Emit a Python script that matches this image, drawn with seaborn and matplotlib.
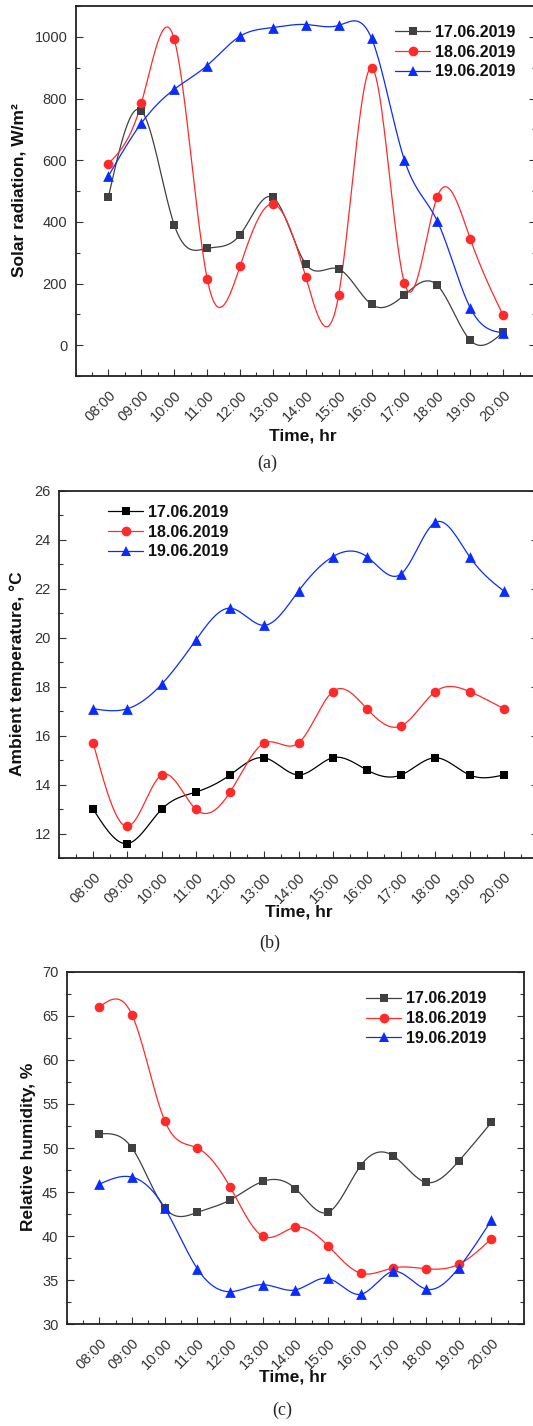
import numpy as np
import pandas as pd
import matplotlib
matplotlib.use("Agg")
import matplotlib.pyplot as plt
import seaborn as sns
from matplotlib.lines import Line2D
from matplotlib.ticker import MultipleLocator

# ---------------- data ----------------
times = ["08:00", "09:00", "10:00", "11:00", "12:00", "13:00", "14:00",
         "15:00", "16:00", "17:00", "18:00", "19:00", "20:00"]
days = ["17.06.2019", "18.06.2019", "19.06.2019"]

solar_17 = [482, 760, 390, 314, 358, 479, 263, 247, 132, 163, 194, 16, 42]
solar_18 = [589, 785, 992, 216, 256, 458, 221, 163, 900, 201, 482, 345, 97]
solar_19 = [549, 720, 830, 907, 1002, 1030, 1040, 1037, 995, 600, 402, 121, 40]

temp_17 = [13.0, 11.6, 13.0, 13.7, 14.4, 15.1, 14.4, 15.1, 14.6, 14.4, 15.1, 14.4, 14.4]
temp_18 = [15.7, 12.3, 14.4, 13.0, 13.7, 15.7, 15.7, 17.8, 17.1, 16.4, 17.8, 17.8, 17.1]
temp_19 = [17.1, 17.1, 18.1, 19.9, 21.2, 20.5, 21.9, 23.3, 23.3, 22.6, 24.7, 23.3, 21.9]

hum_17 = [51.6, 50.0, 43.2, 42.7, 44.1, 46.2, 45.4, 42.7, 48.0, 49.1, 46.1, 48.5, 52.9]
hum_18 = [66.0, 65.1, 53.1, 50.0, 45.6, 40.0, 41.0, 38.9, 35.8, 36.4, 36.3, 36.8, 39.7]
hum_19 = [45.9, 46.7, 43.2, 36.3, 33.7, 34.5, 33.9, 35.2, 33.4, 36.0, 34.0, 36.4, 41.8]


def natural_spline(x, y, n=600):
    x = np.asarray(x, float)
    y = np.asarray(y, float)
    k = len(x)
    h = np.diff(x)
    A = np.zeros((k, k))
    r = np.zeros(k)
    A[0, 0] = 1
    A[-1, -1] = 1
    for i in range(1, k - 1):
        A[i, i - 1] = h[i - 1]
        A[i, i] = 2 * (h[i - 1] + h[i])
        A[i, i + 1] = h[i]
        r[i] = 6 * ((y[i + 1] - y[i]) / h[i] - (y[i] - y[i - 1]) / h[i - 1])
    M = np.linalg.solve(A, r)
    xs = np.linspace(x[0], x[-1], n)
    idx = np.clip(np.searchsorted(x, xs) - 1, 0, k - 2)
    x0, x1 = x[idx], x[idx + 1]
    hh = x1 - x0
    a = (x1 - xs) / hh
    b = (xs - x0) / hh
    ys = (a * y[idx] + b * y[idx + 1]
          + ((a ** 3 - a) * M[idx] + (b ** 3 - b) * M[idx + 1]) * hh ** 2 / 6)
    return xs, ys


# ---------------- style ----------------
sns.set_theme(style="ticks")
plt.rcParams["font.family"] = ["Liberation Sans", "DejaVu Sans"]

W, H = 533, 1426
fig = plt.figure(figsize=(W / 100, H / 100), dpi=100)


def rect(l, r, t, b):
    return [l / W, 1 - b / H, (r - l) / W, (b - t) / H]


RED = "#ff2a2a"
BLUE = "#0a2cff"
markers = ["s", "o", "^"]
msizes_sc = [40, 48, 60]
msizes_leg = [6.2, 7.0, 7.8]

panels = [
    dict(series=[solar_17, solar_18, solar_19], colors=["#404040", RED, BLUE],
         rect=rect(75.6, 536, 6, 376), ylim=(-100, 1100), major=200, minor=100,
         ylabel="Solar radiation, W/m²", ylab_xy=(-0.106, 0.503), xlab_xy=(0.494, -0.141),
         leg_xy=(0.694, 0.949), caption="(a)", cap_xy=(267, 463)),
    dict(series=[temp_17, temp_18, temp_19], colors=["#000000", RED, BLUE],
         rect=rect(59.0, 538, 490.5, 858.3), ylim=(11, 26), major=2, minor=1,
         ylabel="Ambient temperature, °C", ylab_xy=(-0.070, 0.502), xlab_xy=(0.5, -0.125),
         leg_xy=(0.103, 0.961), caption="(b)", cap_xy=(270, 943)),
    dict(series=[hum_17, hum_18, hum_19], colors=["#404040", RED, BLUE],
         rect=rect(66.7, 524, 971.7, 1324.3), ylim=(30, 70), major=5, minor=2.5,
         ylabel="Relative humidity, %", ylab_xy=(-0.068, 0.504), xlab_xy=(0.495, -0.128),
         leg_xy=(0.655, 0.944), caption="(c)", cap_xy=(282, 1410)),
]

xi = np.arange(len(times))
TICKCOL = "#333333"

for p in panels:
    ax = fig.add_axes(p["rect"])
    handles = []
    for vals, col, mk, s_sc, s_leg, lab in zip(p["series"], p["colors"], markers,
                                               msizes_sc, msizes_leg, days):
        xs, ys = natural_spline(xi, vals)
        sns.lineplot(x=xs, y=ys, color=col, lw=0.9, ax=ax, sort=False,
                     estimator=None, legend=False, zorder=2)
        sns.scatterplot(x=xi, y=vals, marker=mk, s=s_sc, color=col,
                        edgecolor=col, linewidth=0, ax=ax, legend=False, zorder=3)
        handles.append(Line2D([], [], color=col, lw=0.9, marker=mk,
                              markersize=s_leg, markeredgewidth=0, label=lab))

    ax.set_xlim(-1, 13)
    ax.set_xticks(xi)
    ax.set_xticklabels(times, rotation=45, ha="right", rotation_mode="anchor")
    ax.xaxis.set_minor_locator(MultipleLocator(0.5))
    ax.yaxis.set_major_locator(MultipleLocator(p["major"]))
    ax.yaxis.set_minor_locator(MultipleLocator(p["minor"]))
    ax.set_ylim(*p["ylim"])

    ax.tick_params(which="both", direction="in", right=True, top=False,
                   colors=TICKCOL, width=0.8)
    ax.tick_params(axis="y", labelsize=10.5, pad=6)
    ax.tick_params(axis="x", labelsize=10.5, pad=8.5)
    ax.tick_params(which="major", length=5)
    ax.tick_params(which="minor", length=3)
    for sp in ax.spines.values():
        sp.set_linewidth(1.3)
        sp.set_color("#222222")

    ax.set_ylabel(p["ylabel"], fontsize=12.5, fontweight="bold", color="#111111")
    ax.yaxis.set_label_coords(*p["ylab_xy"])
    ax.set_xlabel("Time, hr", fontsize=12.5, fontweight="bold", color="#111111")
    ax.xaxis.set_label_coords(*p["xlab_xy"])

    leg = ax.legend(handles=handles, loc="upper left", bbox_to_anchor=p["leg_xy"],
                    frameon=False, borderpad=0, borderaxespad=0,
                    handlelength=2.2, handletextpad=0.3, labelspacing=0.3,
                    prop={"weight": "bold", "size": 11.5})
    for t in leg.get_texts():
        t.set_color("#111111")

    fig.text(p["cap_xy"][0] / W, 1 - p["cap_xy"][1] / H, p["caption"],
             ha="center", va="center", fontsize=13, family="Liberation Serif")

fig.savefig("out.png", dpi=100)
